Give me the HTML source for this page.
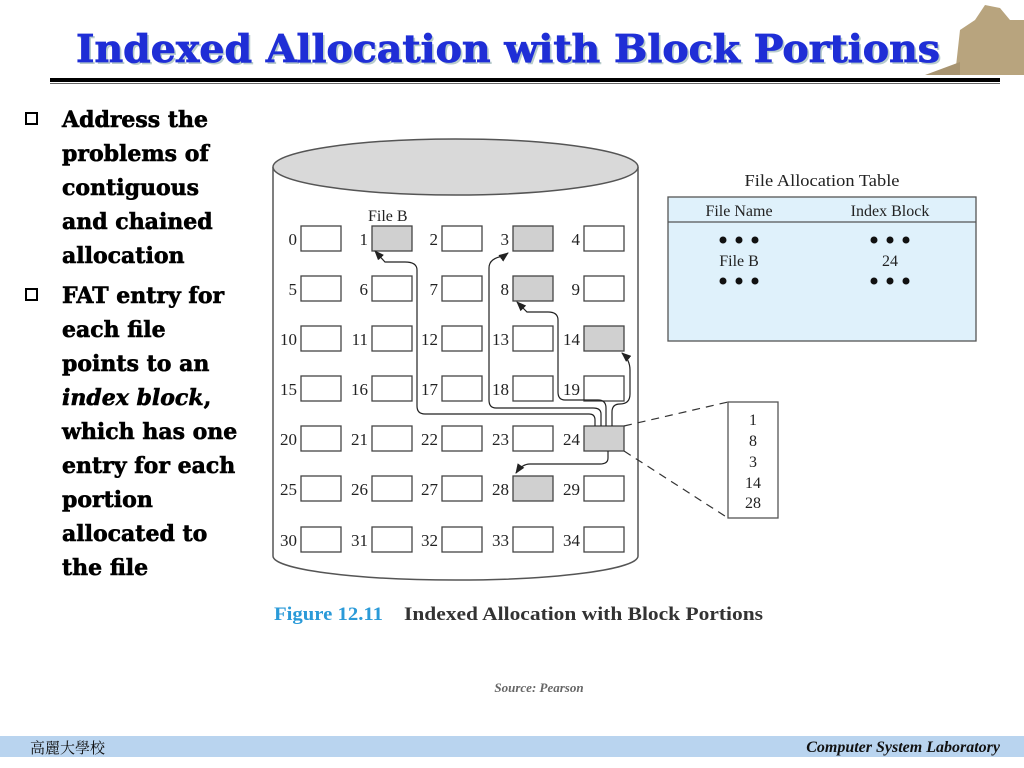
<!DOCTYPE html>
<html><head><meta charset="utf-8"><style>
html,body{margin:0;padding:0;background:#fff;width:1024px;height:768px;overflow:hidden}
svg{display:block}
.t{font-family:"Liberation Serif",serif;fill:#222}
.b{font-family:"DejaVu Serif",serif;font-weight:bold;font-size:22px;fill:#000;stroke:#000;stroke-width:0.6}
</style></head><body>
<svg width="1024" height="768" viewBox="0 0 1024 768" xmlns="http://www.w3.org/2000/svg">
<defs>
<marker id="ar" markerWidth="10" markerHeight="8" refX="9" refY="4" orient="auto" markerUnits="userSpaceOnUse">
<path d="M0,0 L10,4 L0,8 Z" fill="#222"/></marker>
</defs>
<!-- building -->
<path d="M955,75 L960,30 L975,20 L985,5 L1000,8 L1010,20 L1024,20 L1024,75 Z" fill="#b8a47e"/>
<path d="M925,75 L960,62 L960,75 Z" fill="#a89470"/>
<!-- title -->
<text x="76" y="62" font-family="DejaVu Serif,serif" font-weight="bold" font-size="38" fill="#8aa" textLength="864" lengthAdjust="spacingAndGlyphs" opacity="0.6" transform="translate(2,2)">Indexed Allocation with Block Portions</text>
<text x="76" y="62" font-family="DejaVu Serif,serif" font-weight="bold" font-size="38" fill="#1f2ed6" stroke="#1f2ed6" stroke-width="0.8" textLength="864" lengthAdjust="spacingAndGlyphs">Indexed Allocation with Block Portions</text>
<rect x="50" y="78" width="950" height="4" fill="#000"/>
<rect x="50" y="83" width="950" height="1" fill="#666"/>
<!-- bullets -->
<rect x="26" y="113" width="11" height="11" fill="none" stroke="#000" stroke-width="2"/>
<rect x="26" y="289" width="11" height="11" fill="none" stroke="#000" stroke-width="2"/>
<g class="b">
<text x="62" y="127">Address the</text>
<text x="62" y="161">problems of</text>
<text x="62" y="195">contiguous</text>
<text x="62" y="229">and chained</text>
<text x="62" y="263">allocation</text>
<text x="62" y="303">FAT entry for</text>
<text x="62" y="337">each file</text>
<text x="62" y="371">points to an</text>
<text x="62" y="405"><tspan font-style="italic">index block</tspan>,</text>
<text x="62" y="439">which has one</text>
<text x="62" y="473">entry for each</text>
<text x="62" y="507">portion</text>
<text x="62" y="541">allocated to</text>
<text x="62" y="575">the file</text>
</g>
<!-- cylinder -->
<path d="M273,167 L273,556 A182,24 0 0 0 638,556 L638,167" fill="#fff" stroke="#555" stroke-width="1.5"/>
<ellipse cx="455.5" cy="167" rx="182.5" ry="28" fill="#d9d9d9" stroke="#555" stroke-width="1.5"/>
<text class="t" x="368" y="221" font-size="16">File B</text>
<script>
(function(){
var ns="http://www.w3.org/2000/svg",svg=document.querySelector('svg');
var xs=[301,372,442,513,584],ys=[226,276,326,376,426,476,527];
var gray={1:1,3:1,8:1,14:1,24:1,28:1};
for(var r=0;r<7;r++)for(var c=0;c<5;c++){
 var n=r*5+c;
 var rc=document.createElementNS(ns,'rect');
 rc.setAttribute('x',xs[c]);rc.setAttribute('y',ys[r]);rc.setAttribute('width',40);rc.setAttribute('height',25);
 rc.setAttribute('fill',gray[n]?'#d0d0d0':'#fff');rc.setAttribute('stroke','#444');rc.setAttribute('stroke-width','1.3');
 svg.appendChild(rc);
 var t=document.createElementNS(ns,'text');
 t.setAttribute('x',xs[c]-4);t.setAttribute('y',ys[r]+19);t.setAttribute('text-anchor','end');
 t.setAttribute('class','t');t.setAttribute('font-size','17');t.textContent=n;svg.appendChild(t);
}
})();
</script>
<!-- arrows -->
<g fill="none" stroke="#222" stroke-width="1.2">
<path d="M595,426 L595,420 Q595,414 589,414 L425,414 Q417,414 417,406 L417,270 Q417,262 405,262 L385,262 L375,251" marker-end="url(#ar)"/>
<path d="M601,426 L601,414 Q601,408 593,408 L496,408 Q489,408 489,400 L489,268 Q489,258 504,256 L508,253" marker-end="url(#ar)"/>
<path d="M606,426 L606,408 Q606,400 598,400 L565,400 Q558,400 558,392 L558,320 Q558,312 548,312 L527,312 L517,302" marker-end="url(#ar)"/>
<path d="M612,426 L612,412 Q612,404 620,404 Q630,404 630,394 L630,370 Q630,360 622,353" marker-end="url(#ar)"/>
<path d="M608,451 L608,458 Q608,464 600,464 L530,464 Q522,464 516,473" marker-end="url(#ar)"/>
</g>
<!-- dashed lines -->
<g stroke="#333" stroke-width="1.2" stroke-dasharray="8,6">
<line x1="624" y1="426" x2="728" y2="402"/>
<line x1="624" y1="451" x2="728" y2="518"/>
</g>
<rect x="728" y="402" width="50" height="116" fill="#fff" stroke="#555" stroke-width="1.3"/>
<g class="t" font-size="16" text-anchor="middle">
<text x="753" y="425">1</text><text x="753" y="446">8</text><text x="753" y="467">3</text><text x="753" y="488">14</text><text x="753" y="508">28</text>
</g>
<!-- FAT -->
<text class="t" x="822" y="186" font-size="17" text-anchor="middle" textLength="155" lengthAdjust="spacingAndGlyphs">File Allocation Table</text>
<rect x="668" y="197" width="308" height="144" fill="#dff1fb" stroke="#555" stroke-width="1.3"/>
<line x1="668" y1="222" x2="976" y2="222" stroke="#555" stroke-width="1.3"/>
<g class="t" font-size="16" text-anchor="middle">
<text x="739" y="216">File Name</text><text x="890" y="216">Index Block</text>
<text x="739" y="266">File B</text><text x="890" y="266">24</text>
</g>
<g fill="#111">
<circle cx="723" cy="240" r="3.5"/><circle cx="739" cy="240" r="3.5"/><circle cx="755" cy="240" r="3.5"/>
<circle cx="723" cy="281" r="3.5"/><circle cx="739" cy="281" r="3.5"/><circle cx="755" cy="281" r="3.5"/>
<circle cx="874" cy="240" r="3.5"/><circle cx="890" cy="240" r="3.5"/><circle cx="906" cy="240" r="3.5"/>
<circle cx="874" cy="281" r="3.5"/><circle cx="890" cy="281" r="3.5"/><circle cx="906" cy="281" r="3.5"/>
</g>
<!-- caption -->
<text x="274" y="620" font-family="Liberation Serif,serif" font-weight="bold" font-size="19" fill="#2a9ad8" textLength="109" lengthAdjust="spacingAndGlyphs">Figure 12.11</text>
<text x="404" y="620" font-family="Liberation Serif,serif" font-weight="bold" font-size="19" fill="#333" textLength="359" lengthAdjust="spacingAndGlyphs">Indexed Allocation with Block Portions</text>
<text x="539" y="692" font-family="Liberation Serif,serif" font-weight="bold" font-style="italic" font-size="13" fill="#666" text-anchor="middle">Source: Pearson</text>
<!-- footer -->
<rect x="0" y="736" width="1024" height="21" fill="#b9d4ef"/>
<text x="30" y="753" font-family="Noto Serif CJK SC,Noto Sans CJK TC,serif" font-size="15" fill="#111">高麗大學校</text>
<text x="1000" y="752" font-family="Liberation Serif,serif" font-style="italic" font-weight="bold" font-size="16" fill="#111" text-anchor="end">Computer System Laboratory</text>
</svg>
</body></html>
